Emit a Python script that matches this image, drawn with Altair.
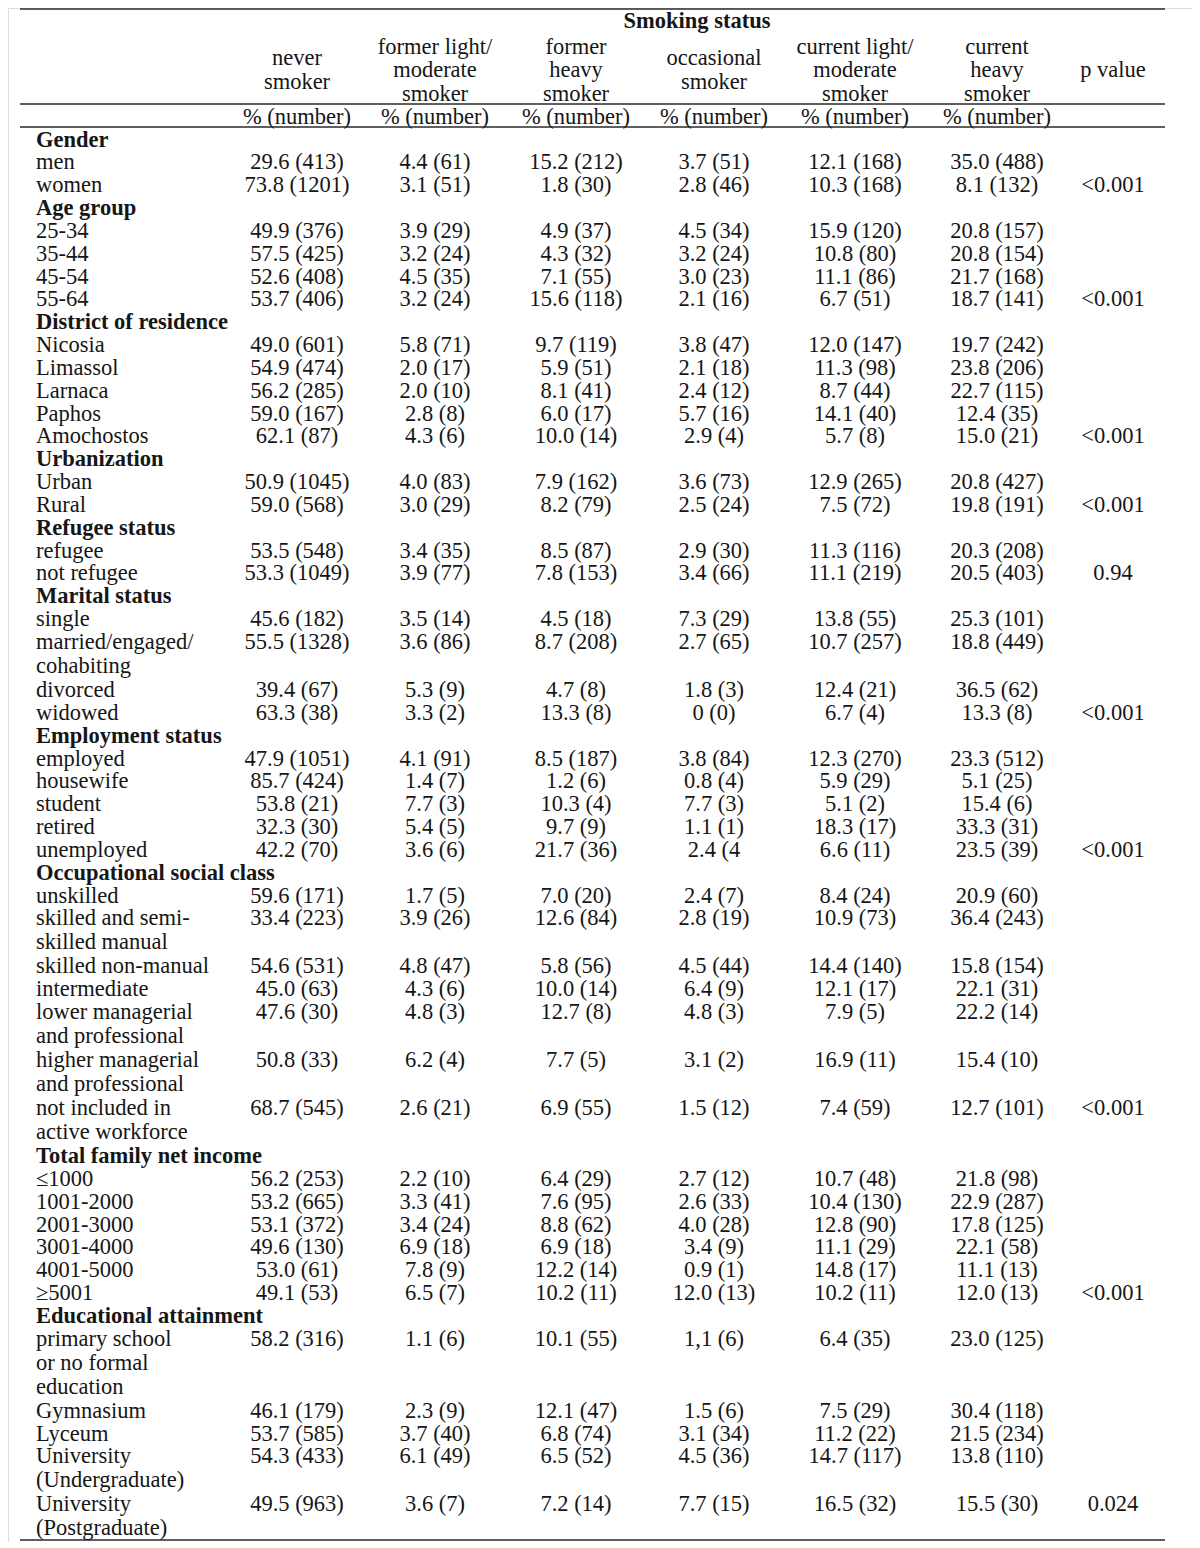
import altair as alt
import pandas as pd

# ---------------- data ----------------
row_labels = [
    "Gender", "men", "women",
    "Age group", "25-34", "35-44", "45-54", "55-64",
    "District of residence", "Nicosia", "Limassol", "Larnaca", "Paphos", "Amochostos",
    "Urbanization", "Urban", "Rural",
    "Refugee status", "refugee", "not refugee",
    "Marital status", "single", "married/engaged/", "cohabiting", "divorced", "widowed",
    "Employment status", "employed", "housewife", "student", "retired", "unemployed",
    "Occupational social class", "unskilled", "skilled and semi-", "skilled manual",
    "skilled non-manual", "intermediate", "lower managerial", "and professional",
    "higher managerial", "and professional", "not included in", "active workforce",
    "Total family net income", "≤1000", "1001-2000", "2001-3000", "3001-4000", "4001-5000", "≥5001",
    "Educational attainment", "primary school", "or no formal", "education",
    "Gymnasium", "Lyceum", "University", "(Undergraduate)", "University", "(Postgraduate)",
]
group_rows = [0, 3, 8, 14, 17, 20, 26, 32, 44, 51]
# rows that continue the label of the row above (wrapped cell text)
continuation_rows = [23, 35, 39, 41, 43, 53, 54, 58, 60]

never_smoker = [
    "", "29.6 (413)", "73.8 (1201)",
    "", "49.9 (376)", "57.5 (425)", "52.6 (408)", "53.7 (406)",
    "", "49.0 (601)", "54.9 (474)", "56.2 (285)", "59.0 (167)", "62.1 (87)",
    "", "50.9 (1045)", "59.0 (568)",
    "", "53.5 (548)", "53.3 (1049)",
    "", "45.6 (182)", "55.5 (1328)", "", "39.4 (67)", "63.3 (38)",
    "", "47.9 (1051)", "85.7 (424)", "53.8 (21)", "32.3 (30)", "42.2 (70)",
    "", "59.6 (171)", "33.4 (223)", "", "54.6 (531)", "45.0 (63)", "47.6 (30)", "",
    "50.8 (33)", "", "68.7 (545)", "",
    "", "56.2 (253)", "53.2 (665)", "53.1 (372)", "49.6 (130)", "53.0 (61)", "49.1 (53)",
    "", "58.2 (316)", "", "", "46.1 (179)", "53.7 (585)", "54.3 (433)", "", "49.5 (963)", "",
]
former_light = [
    "", "4.4 (61)", "3.1 (51)",
    "", "3.9 (29)", "3.2 (24)", "4.5 (35)", "3.2 (24)",
    "", "5.8 (71)", "2.0 (17)", "2.0 (10)", "2.8 (8)", "4.3 (6)",
    "", "4.0 (83)", "3.0 (29)",
    "", "3.4 (35)", "3.9 (77)",
    "", "3.5 (14)", "3.6 (86)", "", "5.3 (9)", "3.3 (2)",
    "", "4.1 (91)", "1.4 (7)", "7.7 (3)", "5.4 (5)", "3.6 (6)",
    "", "1.7 (5)", "3.9 (26)", "", "4.8 (47)", "4.3 (6)", "4.8 (3)", "",
    "6.2 (4)", "", "2.6 (21)", "",
    "", "2.2 (10)", "3.3 (41)", "3.4 (24)", "6.9 (18)", "7.8 (9)", "6.5 (7)",
    "", "1.1 (6)", "", "", "2.3 (9)", "3.7 (40)", "6.1 (49)", "", "3.6 (7)", "",
]
former_heavy = [
    "", "15.2 (212)", "1.8 (30)",
    "", "4.9 (37)", "4.3 (32)", "7.1 (55)", "15.6 (118)",
    "", "9.7 (119)", "5.9 (51)", "8.1 (41)", "6.0 (17)", "10.0 (14)",
    "", "7.9 (162)", "8.2 (79)",
    "", "8.5 (87)", "7.8 (153)",
    "", "4.5 (18)", "8.7 (208)", "", "4.7 (8)", "13.3 (8)",
    "", "8.5 (187)", "1.2 (6)", "10.3 (4)", "9.7 (9)", "21.7 (36)",
    "", "7.0 (20)", "12.6 (84)", "", "5.8 (56)", "10.0 (14)", "12.7 (8)", "",
    "7.7 (5)", "", "6.9 (55)", "",
    "", "6.4 (29)", "7.6 (95)", "8.8 (62)", "6.9 (18)", "12.2 (14)", "10.2 (11)",
    "", "10.1 (55)", "", "", "12.1 (47)", "6.8 (74)", "6.5 (52)", "", "7.2 (14)", "",
]
occasional = [
    "", "3.7 (51)", "2.8 (46)",
    "", "4.5 (34)", "3.2 (24)", "3.0 (23)", "2.1 (16)",
    "", "3.8 (47)", "2.1 (18)", "2.4 (12)", "5.7 (16)", "2.9 (4)",
    "", "3.6 (73)", "2.5 (24)",
    "", "2.9 (30)", "3.4 (66)",
    "", "7.3 (29)", "2.7 (65)", "", "1.8 (3)", "0 (0)",
    "", "3.8 (84)", "0.8 (4)", "7.7 (3)", "1.1 (1)", "2.4 (4",
    "", "2.4 (7)", "2.8 (19)", "", "4.5 (44)", "6.4 (9)", "4.8 (3)", "",
    "3.1 (2)", "", "1.5 (12)", "",
    "", "2.7 (12)", "2.6 (33)", "4.0 (28)", "3.4 (9)", "0.9 (1)", "12.0 (13)",
    "", "1,1 (6)", "", "", "1.5 (6)", "3.1 (34)", "4.5 (36)", "", "7.7 (15)", "",
]
current_light = [
    "", "12.1 (168)", "10.3 (168)",
    "", "15.9 (120)", "10.8 (80)", "11.1 (86)", "6.7 (51)",
    "", "12.0 (147)", "11.3 (98)", "8.7 (44)", "14.1 (40)", "5.7 (8)",
    "", "12.9 (265)", "7.5 (72)",
    "", "11.3 (116)", "11.1 (219)",
    "", "13.8 (55)", "10.7 (257)", "", "12.4 (21)", "6.7 (4)",
    "", "12.3 (270)", "5.9 (29)", "5.1 (2)", "18.3 (17)", "6.6 (11)",
    "", "8.4 (24)", "10.9 (73)", "", "14.4 (140)", "12.1 (17)", "7.9 (5)", "",
    "16.9 (11)", "", "7.4 (59)", "",
    "", "10.7 (48)", "10.4 (130)", "12.8 (90)", "11.1 (29)", "14.8 (17)", "10.2 (11)",
    "", "6.4 (35)", "", "", "7.5 (29)", "11.2 (22)", "14.7 (117)", "", "16.5 (32)", "",
]
current_heavy = [
    "", "35.0 (488)", "8.1 (132)",
    "", "20.8 (157)", "20.8 (154)", "21.7 (168)", "18.7 (141)",
    "", "19.7 (242)", "23.8 (206)", "22.7 (115)", "12.4 (35)", "15.0 (21)",
    "", "20.8 (427)", "19.8 (191)",
    "", "20.3 (208)", "20.5 (403)",
    "", "25.3 (101)", "18.8 (449)", "", "36.5 (62)", "13.3 (8)",
    "", "23.3 (512)", "5.1 (25)", "15.4 (6)", "33.3 (31)", "23.5 (39)",
    "", "20.9 (60)", "36.4 (243)", "", "15.8 (154)", "22.1 (31)", "22.2 (14)", "",
    "15.4 (10)", "", "12.7 (101)", "",
    "", "21.8 (98)", "22.9 (287)", "17.8 (125)", "22.1 (58)", "11.1 (13)", "12.0 (13)",
    "", "23.0 (125)", "", "", "30.4 (118)", "21.5 (234)", "13.8 (110)", "", "15.5 (30)", "",
]
p_values = [""] * len(row_labels)
for i, p in {2: "<0.001", 7: "<0.001", 13: "<0.001", 16: "<0.001", 19: "0.94",
             25: "<0.001", 31: "<0.001", 42: "<0.001", 50: "<0.001", 59: "0.024"}.items():
    p_values[i] = p

column_headers = ["never\nsmoker", "former light/\nmoderate\nsmoker", "former\nheavy\nsmoker",
                  "occasional\nsmoker", "current light/\nmoderate\nsmoker", "current\nheavy\nsmoker",
                  "p value"]
unit_label = "% (number)"
spanner = "Smoking status"

# ---------------- layout ----------------
W, H = 1184, 1534
ROW0 = 139.5          # page y of the first body row
STEP = 22.84          # normal row step
WRAP_STEP = 24.0      # step inside / right after a wrapped cell
LABEL_X = 36
COL_X = [297, 435, 576, 714, 855, 997, 1113]
LINE_X0, LINE_X1 = 20, 1165
HEADER_MID, HEADER_LH = 70, 23.5
FONT = "Liberation Serif"
FS = 22.5

# y position of each body row (layout only)
row_y = []
y = ROW0
for i in range(len(row_labels)):
    if i > 0:
        wrapped = (i in continuation_rows) or (i - 1 in continuation_rows)
        y += WRAP_STEP if wrapped else STEP
    row_y.append(y)

xscale = alt.Scale(domain=[8, 8 + W], nice=False, zero=False)
yscale = alt.Scale(domain=[8, 8 + H], nice=False, zero=False, reverse=True)

def X(field="x"):
    return alt.X(f"{field}:Q", scale=xscale, axis=None)

def Y(field="y"):
    return alt.Y(f"{field}:Q", scale=yscale, axis=None)

lab = pd.DataFrame({"y": row_y, "label": row_labels})
lab["x"] = LABEL_X
lab["bold"] = [i in group_rows for i in range(len(row_labels))]

body_cols = [never_smoker, former_light, former_heavy, occasional, current_light, current_heavy, p_values]
recs = []
for ci, col in enumerate(body_cols):
    for ri, t in enumerate(col):
        if t:
            recs.append({"x": COL_X[ci], "y": row_y[ri], "t": t})
vals = pd.DataFrame(recs)

hdr_y = [HEADER_MID - (h.count("\n")) * HEADER_LH / 2 for h in column_headers]
hdr = pd.DataFrame({"x": COL_X, "y": hdr_y, "t": column_headers})
units = pd.DataFrame({"x": COL_X[:6], "y": [116.5] * 6, "t": [unit_label] * 6})
span = pd.DataFrame({"x": [697], "y": [21], "t": [spanner]})
rules = pd.DataFrame({"x": [LINE_X0] * 4, "x2": [LINE_X1] * 4,
                      "y": [9, 104, 127, 1540]})

base_text = dict(font=FONT, fontSize=FS, color="#161616", baseline="middle")

labels_normal = alt.Chart(lab).transform_filter("!datum.bold").mark_text(
    align="left", **base_text).encode(x=X(), y=Y(), text="label:N")
labels_bold = alt.Chart(lab).transform_filter("datum.bold").mark_text(
    align="left", fontWeight="bold", **base_text).encode(x=X(), y=Y(), text="label:N")
values = alt.Chart(vals).mark_text(align="center", **base_text).encode(x=X(), y=Y(), text="t:N")
headers = alt.Chart(hdr).mark_text(align="center", lineBreak="\n", lineHeight=HEADER_LH,
                                   **base_text).encode(x=X(), y=Y(), text="t:N")
unit_row = alt.Chart(units).mark_text(align="center", **base_text).encode(x=X(), y=Y(), text="t:N")
spanner_t = alt.Chart(span).mark_text(align="center", fontWeight="bold", **base_text).encode(
    x=X(), y=Y(), text="t:N")
lines = alt.Chart(rules).mark_rule(color="#2a2a2a", strokeWidth=1.6).encode(
    x=X(), x2="x2:Q", y=Y())

chart = alt.layer(lines, labels_normal, labels_bold, values, headers, unit_row, spanner_t).properties(
    width=W, height=H, padding=0, autosize=alt.AutoSizeParams(type="none")
).configure_view(stroke="transparent", strokeWidth=0, strokeOpacity=0).configure(background="white")

chart.save("out.html", embed_options={"renderer": "svg", "actions": False})
